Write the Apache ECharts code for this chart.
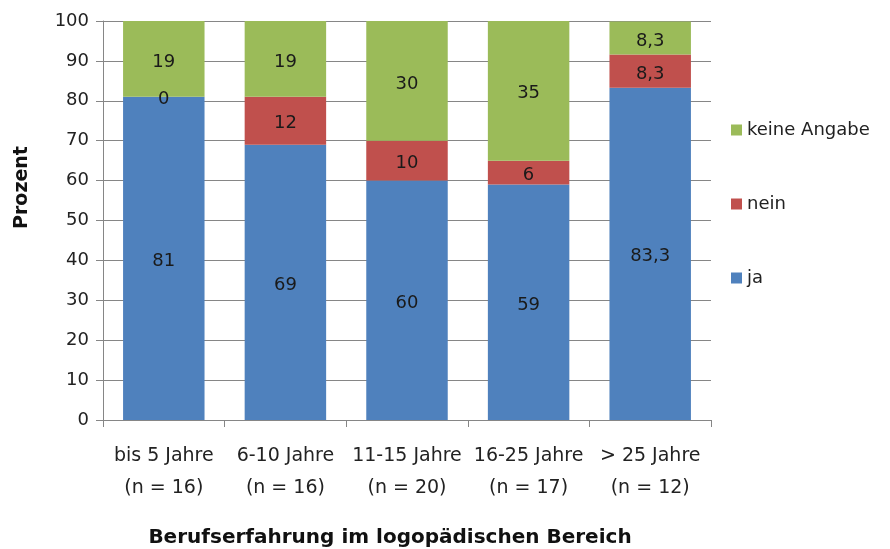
<!DOCTYPE html>
<html>
<head>
<meta charset="utf-8">
<script src="https://cdn.jsdelivr.net/npm/echarts@6/dist/echarts.min.js"></script>
<style>
  html, body { margin: 0; padding: 0; background: #fff; }
  #chart { width: 890px; height: 549px; }
</style>
</head>
<body>
<div id="chart"></div>
<script>
const categories = [
    'bis 5 Jahre\n(n = 16)',
    '6-10 Jahre\n(n = 16)',
    '11-15 Jahre\n(n = 20)',
    '16-25 Jahre\n(n = 17)',
    '> 25 Jahre\n(n = 12)'
];
const ja = [81, 69, 60, 59, 83.3];
const nein = [0, 12, 10, 6, 8.3];
const keineAngabe = [19, 19, 30, 35, 8.3];

const font = '"DejaVu Sans", sans-serif';
const colors = {ja: '#4f81bd', nein: '#c0504d', keine: '#9bbb59'};

function fmt(v) {
    return String(v).replace('.', ',');
}

function barSeries(name, data, color) {
    return {
        name: name,
        type: 'bar',
        stack: 'total',
        barWidth: '67%',
        data: data,
        itemStyle: {color: color},
        label: {
            show: true,
            position: 'inside',
            offset: [0, 3],
            color: '#1a1a1a',
            fontFamily: font,
            fontSize: 18,
            formatter: p => fmt(p.value)
        }
    };
}

const chart = echarts.init(document.getElementById('chart'));
chart.setOption({
    animation: false,
    grid: {left: 103, right: 179, top: 21, bottom: 129, outerBoundsMode: 'none'},
    legend: {
        orient: 'vertical',
        left: 731,
        top: 121,
        padding: 0,
        itemWidth: 11,
        itemHeight: 11,
        itemGap: 56,
        icon: 'rect',
        data: ['keine Angabe', 'nein', 'ja'],
        textStyle: {fontFamily: font, fontSize: 18, color: '#222'}
    },
    xAxis: {
        type: 'category',
        data: categories,
        name: 'Berufserfahrung im logopädischen Bereich',
        nameLocation: 'middle',
        nameGap: 108,
        nameTextStyle: {fontFamily: font, fontSize: 20, fontWeight: 'bold', color: '#111', padding: [0, 34, 0, 0]},
        axisLine: {lineStyle: {color: '#868686'}},
        axisTick: {show: true, length: 7, lineStyle: {color: '#868686'}},
        axisLabel: {interval: 0, fontFamily: font, fontSize: 19, color: '#222', margin: 20, lineHeight: 32},
    },
    yAxis: {
        type: 'value',
        min: 0,
        max: 100,
        interval: 10,
        name: 'Prozent',
        nameLocation: 'middle',
        nameGap: 71,
        nameTextStyle: {fontFamily: font, fontSize: 19, fontWeight: 'bold', color: '#111', padding: [0, 0, 0, 66]},
        axisLine: {show: true, lineStyle: {color: '#868686'}},
        axisTick: {show: true, length: 7, lineStyle: {color: '#868686'}},
        axisLabel: {fontFamily: font, fontSize: 18, color: '#222', margin: 14},
        splitLine: {lineStyle: {color: '#868686'}}
    },
    series: [
        barSeries('ja', ja, colors.ja),
        barSeries('nein', nein, colors.nein),
        barSeries('keine Angabe', keineAngabe, colors.keine)
    ]
});
</script>
</body>
</html>
